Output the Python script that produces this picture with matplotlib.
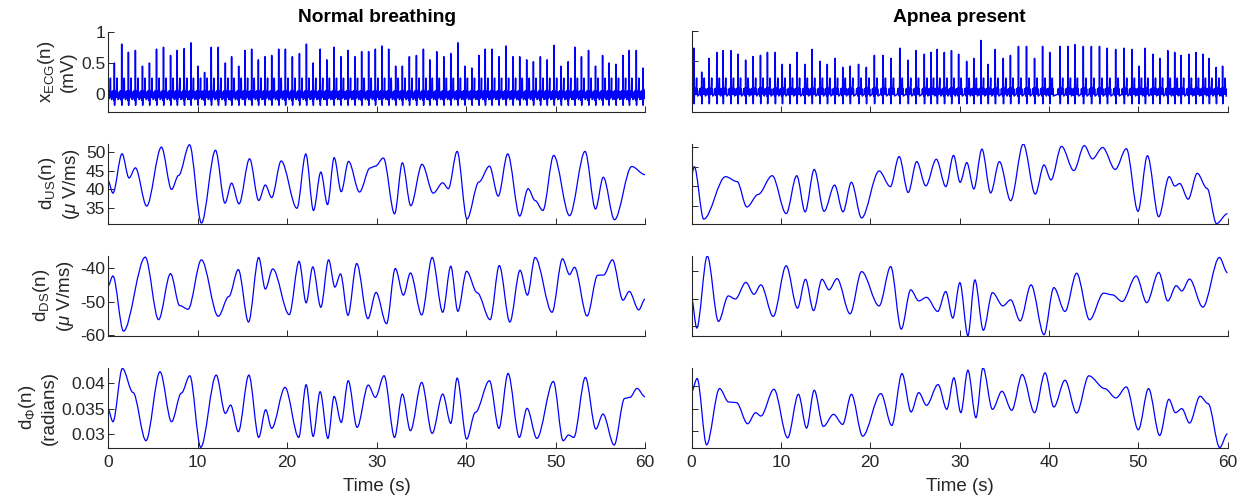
import numpy as np
import matplotlib.pyplot as plt
from matplotlib.path import Path
from matplotlib.patches import PathPatch

plt.rcParams['font.family'] = ['Liberation Sans', 'DejaVu Sans']
plt.rcParams['mathtext.fontset'] = 'custom'
plt.rcParams['mathtext.rm'] = 'Liberation Sans'
plt.rcParams['mathtext.it'] = 'Liberation Sans:italic'
plt.rcParams['mathtext.bf'] = 'Liberation Sans:bold'

# ---- ECG: R-peak times (s) and heights (mV)
ecg_l_t = [-0.02, 0.71, 1.53, 2.28, 3.06, 3.85, 4.63, 5.42, 6.20, 6.99, 7.73, 8.52, 9.26,
           10.05, 10.79, 11.54, 12.32, 13.11, 13.81, 14.60, 15.31, 16.05, 16.80, 17.54,
           18.29, 19.07, 19.82, 20.60, 21.39, 22.17, 22.92, 23.70, 24.45, 25.24, 26.02,
           26.81, 27.59, 28.34, 29.12, 29.87, 30.61, 31.36, 32.14, 32.89, 33.67, 34.46,
           35.24, 35.95, 36.73, 37.52, 38.30, 39.09, 39.87, 40.66, 41.44, 42.15, 42.90,
           43.68, 44.47, 45.25, 46.00, 46.78, 47.53, 48.31, 49.06, 49.84, 50.63, 51.41,
           52.16, 52.90, 53.69, 54.47, 55.26, 55.97, 56.75, 57.54, 58.24, 59.03, 59.77]
ecg_l_r = [0.25, 0.50, 0.80, 0.67, 0.70, 0.45, 0.50, 0.72, 0.75, 0.62, 0.70, 0.73, 0.82,
           0.45, 0.35, 0.75, 0.75, 0.50, 0.60, 0.45, 0.70, 0.72, 0.55, 0.60, 0.62, 0.72,
           0.72, 0.60, 0.65, 0.80, 0.50, 0.72, 0.55, 0.75, 0.60, 0.70, 0.60, 0.68, 0.68,
           0.72, 0.77, 0.72, 0.45, 0.45, 0.60, 0.62, 0.72, 0.55, 0.68, 0.60, 0.65, 0.82,
           0.45, 0.42, 0.62, 0.72, 0.72, 0.60, 0.77, 0.60, 0.60, 0.55, 0.52, 0.60, 0.55,
           0.78, 0.45, 0.52, 0.75, 0.60, 0.70, 0.45, 0.62, 0.50, 0.48, 0.62, 0.70, 0.70,
           0.42]

ecg_r_t = [0.28, 1.14, 1.97, 2.83, 3.54, 4.41, 5.20, 6.06, 6.89, 7.72, 8.50, 9.37, 10.16,
           11.02, 11.81, 12.68, 13.50, 14.37, 15.20, 16.06, 16.93, 17.76, 18.70, 19.57,
           20.47, 21.42, 22.32, 23.31, 24.25, 25.12, 26.06, 26.80, 27.50, 28.30, 29.10,
           29.90, 30.80, 31.60, 32.40, 33.20, 34.00, 34.90, 35.70, 36.60, 37.50, 38.40,
           39.30, 40.10, 41.26, 42.13, 42.91, 43.86, 44.76, 45.67, 46.54, 47.48, 48.43,
           49.29, 50.08, 50.79, 51.65, 52.44, 53.31, 54.09, 54.80, 55.67, 56.46, 57.24,
           57.95, 58.74, 59.45]
ecg_r_r = [0.72, 0.32, 0.55, 0.65, 0.68, 0.68, 0.62, 0.52, 0.58, 0.60, 0.65, 0.65, 0.45,
           0.45, 0.65, 0.45, 0.70, 0.50, 0.45, 0.55, 0.40, 0.42, 0.45, 0.40, 0.60, 0.60,
           0.55, 0.72, 0.52, 0.68, 0.62, 0.65, 0.70, 0.65, 0.68, 0.62, 0.50, 0.55, 0.85,
           0.45, 0.70, 0.55, 0.60, 0.75, 0.75, 0.55, 0.75, 0.65, 0.75, 0.75, 0.78, 0.75,
           0.75, 0.75, 0.72, 0.70, 0.72, 0.70, 0.42, 0.72, 0.62, 0.55, 0.68, 0.65, 0.60,
           0.62, 0.65, 0.62, 0.55, 0.40, 0.42]

# one beat around the R peak (offsets in s, values in mV, None = R height)
beat_off = [-0.26, -0.21, -0.16, -0.12, -0.08, -0.04, -0.02, 0.00, 0.025, 0.05, 0.09,
            0.13, 0.17, 0.21, 0.25, 0.29, 0.33, 0.37, 0.41]
beat_l = [-0.06, 0.05, -0.02, 0.06, -0.08, 0.03, -0.10, None, -0.17, 0.04, -0.07, 0.05,
          -0.05, 0.03, 0.08, 0.26, -0.04, 0.04, -0.08]
beat_r = [-0.05, 0.04, -0.03, 0.05, -0.07, 0.04, -0.09, None, -0.21, 0.04, -0.06, 0.05,
          -0.05, 0.03, 0.07, 0.22, -0.05, 0.04, -0.08]

# ---- d_US (uV/ms): turning points (time s, value)
us_l_t = [0, 0.55, 1.57, 2.35, 3.06, 4.32, 5.97, 7.10, 7.89, 9.11, 10.44, 12.01, 13.07,
          13.81, 14.64, 15.82, 16.84, 17.58, 18.29, 19.35, 21.11, 22.10, 22.96, 23.78,
          24.53, 25.27, 26.06, 26.88, 28.10, 29.28, 29.87, 30.77, 32.02, 32.89, 33.83,
          35.09, 36.34, 37.40, 38.03, 39.01, 40.11, 41.44, 42.62, 43.60, 44.66, 46.00,
          46.94, 47.72, 48.59, 49.80, 51.57, 53.30, 54.47, 55.34, 56.59, 58.52, 60.0]
us_l_v = [42.3, 38.9, 49.55, 43.0, 45.75, 35.4, 51.35, 39.9, 43.7, 52.0, 30.8, 50.5, 36.2,
          41.6, 36.0, 48.2, 36.9, 41.1, 37.7, 47.6, 34.8, 49.5, 34.2, 44.6, 35.8, 48.5,
          39.3, 47.5, 39.2, 45.7, 46.2, 48.4, 33.3, 47.1, 35.5, 46.7, 38.9, 41.7, 40.1,
          50.2, 31.9, 41.9, 46.2, 38.1, 49.5, 32.7, 40.1, 36.9, 34.2, 49.1, 32.8, 50.2,
          34.6, 43.2, 31.7, 46.1, 43.9]
us_r_t = [0, 0.31, 1.37, 3.81, 5.10, 6.20, 7.46, 9.03, 10.60, 11.78, 12.72, 13.74, 14.84,
          16.02, 16.96, 17.90, 19.04, 21.00, 22.26, 23.24, 24.26, 25.21, 26.23, 27.40,
          28.47, 29.33, 30.07, 30.82, 31.61, 32.51, 33.49, 34.47, 35.73, 37.14, 38.48,
          39.46, 40.24, 41.42, 42.80, 43.97, 44.88, 46.02, 47.43, 48.68, 49.98, 51.04,
          52.30, 53.47, 54.10, 54.65, 55.60, 56.61, 57.71, 58.77, 60.0]
us_r_v = [42.9, 45.0, 31.6, 42.45, 41.2, 34.7, 37.9, 42.7, 33.0, 42.7, 33.45, 44.3, 33.6,
          40.3, 33.45, 41.0, 31.9, 43.9, 39.9, 47.6, 38.4, 46.3, 40.1, 46.9, 39.9, 47.9,
          41.0, 46.05, 39.3, 49.5, 38.3, 46.3, 36.3, 50.8, 38.0, 45.45, 41.6, 50.2, 44.0,
          50.4, 47.0, 49.9, 44.3, 49.6, 33.6, 47.8, 32.2, 42.45, 40.05, 40.7, 36.7, 43.3,
          39.45, 30.45, 33.0]

# ---- d_DS (uV/ms)
ds_l_t = [0, 0.55, 1.73, 4.16, 5.65, 6.99, 8.01, 8.95, 10.44, 12.32, 13.50, 14.56, 15.70,
          16.84, 17.58, 18.41, 20.25, 21.35, 22.14, 22.88, 23.78, 24.65, 25.35, 25.98,
          26.81, 27.79, 29.04, 29.95, 31.12, 32.10, 33.01, 33.79, 35.05, 36.22, 37.40,
          38.30, 39.09, 40.07, 41.25, 42.70, 43.72, 44.90, 46.04, 46.86, 47.72, 49.61,
          50.78, 51.57, 52.12, 53.53, 54.71, 55.38, 56.36, 57.54, 58.24, 59.30, 60.0]
ds_l_v = [-45.4, -42.4, -58.8, -36.8, -55.4, -41.7, -51.2, -52.3, -37.6, -54.4, -48.5,
          -40.5, -56.1, -36.9, -46.3, -40.3, -53.9, -38.05, -50.4, -39.7, -51.7, -37.6,
          -45.7, -41.8, -54.1, -38.7, -55.1, -47.3, -56.6, -40.2, -48.1, -41.5, -54.0,
          -36.9, -53.2, -39.5, -52.9, -41.0, -47.4, -55.4, -39.3, -56.1, -40.7, -48.1,
          -36.9, -53.2, -37.3, -42.0, -39.8, -54.3, -42.2, -42.1, -37.6, -49.6, -47.0,
          -52.5, -49.3]
ds_r_t = [0, 0.59, 1.77, 3.02, 4.12, 4.91, 6.09, 6.99, 7.77, 9.15, 10.60, 11.86, 12.76,
          13.66, 14.61, 15.39, 16.29, 17.75, 19.04, 21.00, 22.30, 23.48, 24.54, 25.44,
          26.31, 27.56, 28.46, 29.25, 30.04, 30.94, 31.72, 32.67, 33.69, 34.86, 35.73,
          36.79, 38.01, 39.46, 40.56, 41.81, 43.11, 44.56, 46.13, 47.11, 48.21, 49.78,
          50.96, 52.30, 53.32, 54.26, 54.89, 55.75, 57.24, 59.09, 60.0]
ds_r_v = [-49.8, -60.6, -34.6, -58.2, -49.0, -50.1, -44.1, -48.4, -45.0, -56.4, -38.1,
          -53.4, -43.0, -54.3, -43.0, -46.8, -42.75, -55.45, -40.2, -52.6, -38.4, -61.0,
          -46.8, -50.8, -49.5, -54.6, -47.4, -57.0, -44.2, -63.35, -43.2, -61.4, -47.8,
          -52.6, -50.4, -58.0, -45.0, -63.0, -46.0, -54.6, -40.8, -57.6, -48.0, -48.6,
          -51.0, -41.8, -51.4, -40.5, -50.8, -45.3, -47.2, -42.9, -53.05, -35.1, -40.6]

# ---- d_Phi (radians)
ph_l_t = [0, 0.55, 1.61, 2.79, 4.24, 5.81, 7.10, 8.20, 9.14, 10.36, 12.09, 13.11, 13.70,
          14.56, 15.74, 16.84, 17.62, 18.29, 19.78, 21.31, 22.14, 22.92, 23.70, 24.57,
          25.27, 26.06, 26.84, 27.83, 29.08, 29.87, 30.85, 32.02, 32.89, 33.79, 35.05,
          36.22, 37.40, 38.30, 39.01, 40.07, 41.05, 42.62, 43.68, 44.70, 45.96, 46.82,
          47.92, 49.76, 50.86, 51.45, 52.04, 53.34, 54.51, 55.30, 56.55, 57.73, 58.32,
          59.11, 60.0]
ph_l_v = [0.03493, 0.03243, 0.04296, 0.03822, 0.02868, 0.04230, 0.03243, 0.03809, 0.04151,
          0.02737, 0.04164, 0.03408, 0.03572, 0.03046, 0.04164, 0.02934, 0.03480, 0.03112,
          0.03921, 0.02934, 0.03974, 0.02954, 0.03836, 0.02914, 0.03743, 0.03230, 0.04053,
          0.03132, 0.03967, 0.03724, 0.04151, 0.02934, 0.03789, 0.03066, 0.04020, 0.03013,
          0.03789, 0.03211, 0.04105, 0.02901, 0.03428, 0.04053, 0.03112, 0.04197, 0.02934,
          0.03507, 0.02914, 0.04039, 0.02868, 0.02980, 0.02934, 0.04118, 0.03099, 0.03395,
          0.02783, 0.03704, 0.03724, 0.03901, 0.03737]
ph_r_t = [0, 0.63, 1.69, 3.14, 4.16, 5.03, 6.28, 7.18, 7.77, 9.23, 10.76, 11.97, 12.88,
          13.74, 14.76, 15.90, 16.92, 17.90, 19.16, 21.20, 22.42, 23.56, 24.58, 25.44,
          26.31, 27.60, 28.58, 29.37, 30.15, 30.94, 31.84, 32.63, 33.69, 34.75, 35.85,
          37.02, 38.40, 39.58, 40.56, 41.81, 43.11, 44.48, 46.25, 47.51, 48.68, 50.02,
          51.16, 52.41, 53.44, 54.18, 54.89, 55.75, 56.93, 57.83, 59.13, 60.0]
ph_r_v = [0.03874, 0.04170, 0.02704, 0.03948, 0.03652, 0.03637, 0.03170, 0.03415, 0.03341,
          0.03933, 0.02859, 0.03822, 0.03074, 0.03911, 0.03111, 0.03378, 0.03156, 0.03822,
          0.02896, 0.03837, 0.03133, 0.04281, 0.03430, 0.03859, 0.03578, 0.04037, 0.03489,
          0.04185, 0.03415, 0.04356, 0.03304, 0.04407, 0.03489, 0.03889, 0.03467, 0.04259,
          0.03415, 0.04296, 0.03541, 0.04133, 0.03407, 0.04230, 0.03948, 0.03741, 0.03985,
          0.03037, 0.03948, 0.02911, 0.03711, 0.03415, 0.03504, 0.03185, 0.03778, 0.03615,
          0.02644, 0.02948]

titles = ['Normal breathing', 'Apnea present']
ylabels = ['x$_{\\mathrm{ECG}}$(n)\n(mV)',
           'd$_{\\mathrm{US}}$(n)\n($\\mu$ V/ms)',
           'd$_{\\mathrm{DS}}$(n)\n($\\mu$ V/ms)',
           'd$_{\\Phi}$(n)\n(radians)']
yticks = [[0, 0.5, 1], [35, 40, 45, 50], [-60, -50, -40], [0.03, 0.035, 0.04]]
yticklabels = [['0', '0.5', '1'], ['35', '40', '45', '50'], ['-60', '-50', '-40'],
               ['0.03', '0.035', '0.04']]
ylims = [[(-0.27, 1), (-0.34, 1)],
         [(30.6, 52.25), (30.4, 50.85)],
         [(-60.2, -36.4), (-63.4, -34.5)],
         [(0.0273, 0.0431), (0.0264, 0.0441)]]
xticks = [0, 10, 20, 30, 40, 50, 60]

BLUE = '#0000ff'
AX = '#262626'


def ecg_trace(beat_t, beat_h, shape):
    tt, vv = [], []
    for tb, h in zip(beat_t, beat_h):
        for off, val in zip(beat_off, shape):
            tt.append(tb + off)
            vv.append(h if val is None else val)
    return tt, vv


def smooth_curve(ax, t, v):
    # cubic segments with flat tangents at each turning point
    verts = [(t[0], v[0])]
    codes = [Path.MOVETO]
    for i in range(1, len(t)):
        dt = t[i] - t[i - 1]
        verts += [(t[i - 1] + dt / 3, v[i - 1]), (t[i] - dt / 3, v[i]), (t[i], v[i])]
        codes += [Path.CURVE4] * 3
    ax.add_patch(PathPatch(Path(verts, codes), fill=False, edgecolor=BLUE, lw=0.9))


fig = plt.figure(figsize=(12.45, 4.99), dpi=100)
W, H = 1245.0, 499.0
col_x = [(108, 537), (691.5, 536)]
row_top = [31.5, 143.8, 255.8, 367.7]
row_h = 80

series = [
    [ecg_trace(ecg_l_t, ecg_l_r, beat_l), ecg_trace(ecg_r_t, ecg_r_r, beat_r)],
    [(us_l_t, us_l_v), (us_r_t, us_r_v)],
    [(ds_l_t, ds_l_v), (ds_r_t, ds_r_v)],
    [(ph_l_t, ph_l_v), (ph_r_t, ph_r_v)],
]

for r in range(4):
    for c in range(2):
        x0, w = col_x[c]
        ax = fig.add_axes([x0 / W, 1 - (row_top[r] + row_h) / H, w / W, row_h / H])
        t, v = series[r][c]
        if r == 0:
            ax.plot(t, v, color=BLUE, lw=1.1)
        else:
            smooth_curve(ax, t, v)
        ax.set_xlim(0, 60)
        ax.set_ylim(*ylims[r][c])
        ax.set_xticks(xticks)
        ax.set_yticks(yticks[r])
        ax.set_yticklabels(yticklabels[r])
        for s in ['top', 'right']:
            ax.spines[s].set_visible(False)
        for s in ['left', 'bottom']:
            ax.spines[s].set_color(AX)
            ax.spines[s].set_linewidth(0.8)
        ax.tick_params(direction='in', length=4, width=0.7, colors=AX, labelsize=12.5)
        ax.tick_params(axis='y', pad=2)
        ax.tick_params(axis='x', pad=5)
        if c == 1:
            ax.tick_params(axis='y', labelleft=False)
        else:
            ax.set_ylabel(ylabels[r], fontsize=13.5, color=AX, labelpad=3)
        if r < 3:
            ax.tick_params(axis='x', labelbottom=False)
        else:
            ax.set_xlabel('Time (s)', fontsize=13.5, color=AX, labelpad=6)
        if r == 0:
            ax.set_title(titles[c], fontsize=13.8, fontweight='bold', color='k', pad=7)

fig.savefig('out.png', dpi=100)
